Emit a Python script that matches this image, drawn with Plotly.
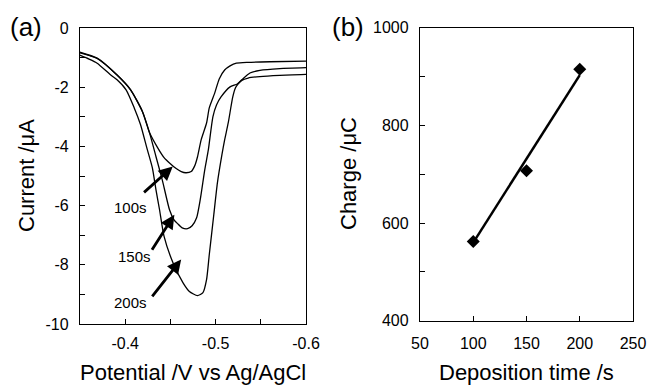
import plotly.graph_objects as go

# ---- Panel (a): stripping voltammograms ----
v_100 = [-0.349, -0.369, -0.391, -0.406, -0.419, -0.427, -0.436, -0.443, -0.449, -0.456, -0.462, -0.467,
         -0.473, -0.477, -0.480, -0.484, -0.490, -0.493, -0.499, -0.504, -0.510, -0.516, -0.523, -0.536,
         -0.560, -0.600]
i_100 = [-0.81, -1.02, -1.59, -2.09, -2.82, -3.54, -4.05, -4.38, -4.56, -4.74, -4.85, -4.89,
         -4.85, -4.65, -4.35, -3.78, -3.21, -2.70, -2.20, -1.72, -1.42, -1.28, -1.19, -1.16,
         -1.14, -1.12]

v_150 = [-0.349, -0.369, -0.391, -0.406, -0.419, -0.427, -0.434, -0.441, -0.449, -0.454, -0.458, -0.463,
         -0.469, -0.474, -0.479, -0.483, -0.488, -0.492, -0.497, -0.501, -0.506, -0.516, -0.524, -0.529,
         -0.538, -0.549, -0.571, -0.600]
i_150 = [-0.83, -1.03, -1.59, -2.09, -2.82, -3.55, -4.34, -5.13, -6.14, -6.48, -6.61, -6.75,
         -6.78, -6.68, -6.41, -5.80, -4.79, -4.11, -3.00, -2.60, -2.33, -1.99, -1.89, -1.75,
         -1.52, -1.43, -1.37, -1.34]

v_200 = [-0.349, -0.360, -0.369, -0.384, -0.391, -0.401, -0.410, -0.417, -0.424, -0.430, -0.434, -0.438,
         -0.443, -0.453, -0.464, -0.471, -0.480, -0.486, -0.490, -0.493, -0.498, -0.502, -0.507, -0.510,
         -0.514, -0.519, -0.522, -0.525, -0.529, -0.536, -0.549, -0.571, -0.600]
i_200 = [-0.91, -1.05, -1.19, -1.59, -1.75, -2.09, -2.70, -3.27, -4.06, -4.72, -5.46, -6.14,
         -7.04, -7.94, -8.61, -8.90, -9.04, -8.94, -8.50, -7.66, -6.31, -5.23, -4.28, -3.78,
         -3.20, -2.33, -2.02, -1.89, -1.77, -1.69, -1.64, -1.60, -1.57]

a_xtick_vals = [-0.4, -0.5, -0.6]
a_xtick_text = ["-0.4", "-0.5", "-0.6"]
a_xminor_vals = [-0.45, -0.55]
a_ytick_vals = [0, -2, -4, -6, -8, -10]
a_ytick_text = ["0", "-2", "-4", "-6", "-8", "-10"]
a_yminor_vals = [-1, -3, -5, -7, -9]

curve_labels = ["100s", "150s", "200s"]

# ---- Panel (b): charge vs deposition time ----
dep_time = [100, 150, 200]
charge = [562, 707, 915]
fit_time = [100, 200]
fit_charge = [560, 903]

b_xtick_vals = [50, 100, 150, 200, 250]
b_ytick_vals = [400, 600, 800, 1000]
b_yminor_vals = [500, 700, 900]

W, H = 649, 385
FONT = "Liberation Sans, Arial, sans-serif"


def px_x(p):
    return p / W


def px_y(p):
    return 1 - p / H


fig = go.Figure()
for vv, ii in [(v_100, i_100), (v_150, i_150), (v_200, i_200)]:
    fig.add_trace(go.Scatter(x=vv, y=ii, mode="lines",
                             line=dict(color="black", width=1.3, shape="spline", smoothing=0.6),
                             xaxis="x", yaxis="y", showlegend=False, hoverinfo="skip"))

fig.add_trace(go.Scatter(x=fit_time, y=fit_charge, mode="lines", line=dict(color="black", width=2.5),
                         xaxis="x2", yaxis="y2", showlegend=False))
fig.add_trace(go.Scatter(x=dep_time, y=charge, mode="markers",
                         marker=dict(symbol="diamond", size=10, color="black"),
                         xaxis="x2", yaxis="y2", showlegend=False))

axis_common = dict(showline=True, linecolor="black", linewidth=1.3, mirror=True, showgrid=False,
                   zeroline=False, ticks="inside", ticklen=5, tickcolor="black", tickwidth=1,
                   tickfont=dict(family=FONT, size=16, color="black"), automargin=False)

fig.update_layout(
    width=W, height=H, margin=dict(l=0, r=0, t=0, b=0),
    paper_bgcolor="white", plot_bgcolor="white", showlegend=False,
    xaxis=dict(domain=[px_x(80), px_x(306)], range=[-0.35, -0.6], anchor="y",
               tickmode="array", tickvals=a_xtick_vals, ticktext=a_xtick_text, ticklabelstandoff=5,
               minor=dict(tickmode="array", tickvals=a_xminor_vals, ticks="inside", ticklen=5,
                          tickcolor="black"),
               **axis_common),
    yaxis=dict(domain=[px_y(324), px_y(28)], range=[-10, 0], anchor="x",
               tickmode="array", tickvals=a_ytick_vals, ticktext=a_ytick_text, ticklabelstandoff=7,
               minor=dict(tickmode="array", tickvals=a_yminor_vals, ticks="inside", ticklen=5,
                          tickcolor="black"),
               **axis_common),
    xaxis2=dict(domain=[px_x(420), px_x(633)], range=[50, 250], anchor="y2",
                tickmode="array", tickvals=b_xtick_vals, ticklabelstandoff=8,
                **axis_common),
    yaxis2=dict(domain=[px_y(320.7), px_y(27.7)], range=[400, 1000], anchor="x2",
                tickmode="array", tickvals=b_ytick_vals, ticklabelstandoff=7,
                minor=dict(tickmode="array", tickvals=b_yminor_vals, ticks="inside", ticklen=5,
                           tickcolor="black"),
                **axis_common),
)

ann = []
# panel letters
ann.append(dict(text="(a)", x=px_x(26.5), y=px_y(27), xref="paper", yref="paper", showarrow=False,
                font=dict(family=FONT, size=26, color="black"), xanchor="center", yanchor="middle"))
ann.append(dict(text="(b)", x=px_x(348), y=px_y(27), xref="paper", yref="paper", showarrow=False,
                font=dict(family=FONT, size=26, color="black"), xanchor="center", yanchor="middle"))
# axis titles
ann.append(dict(text="Potential /V vs Ag/AgCl", x=px_x(193), y=px_y(372.5), xref="paper", yref="paper",
                showarrow=False, font=dict(family=FONT, size=22, color="black"),
                xanchor="center", yanchor="middle"))
ann.append(dict(text="Deposition time /s", x=px_x(526.5), y=px_y(372.5), xref="paper", yref="paper",
                showarrow=False, font=dict(family=FONT, size=22, color="black"),
                xanchor="center", yanchor="middle"))
ann.append(dict(text="Current /μA", x=px_x(27), y=px_y(176), xref="paper", yref="paper",
                showarrow=False, textangle=-90, font=dict(family=FONT, size=22, color="black"),
                xanchor="center", yanchor="middle"))
ann.append(dict(text="Charge /μC", x=px_x(349), y=px_y(174), xref="paper", yref="paper",
                showarrow=False, textangle=-90, font=dict(family=FONT, size=22, color="black"),
                xanchor="center", yanchor="middle"))

# curve labels and arrows (data coordinates of panel a)
label_pos = [(-0.4061, -6.05), (-0.410, -7.72), (-0.4056, -9.27)]
arrow_tail = [(-0.4192, -5.60), (-0.4286, -7.54), (-0.4286, -9.12)]
arrow_tip = [(-0.4526, -4.68), (-0.4544, -6.31), (-0.4619, -7.82)]
for lab, (lx, ly), (tx, ty), (hx, hy) in zip(curve_labels, label_pos, arrow_tail, arrow_tip):
    ann.append(dict(text=lab, x=lx, y=ly, xref="x", yref="y", showarrow=False,
                    font=dict(family=FONT, size=15, color="black"), xanchor="center", yanchor="middle"))
    ann.append(dict(text="", x=hx, y=hy, xref="x", yref="y", ax=tx, ay=ty, axref="x", ayref="y",
                    showarrow=True, arrowhead=2, arrowsize=1.0, arrowwidth=2.8, arrowcolor="black",
                    standoff=0, startstandoff=0))

fig.update_layout(annotations=ann)
fig.write_html("out.html")
